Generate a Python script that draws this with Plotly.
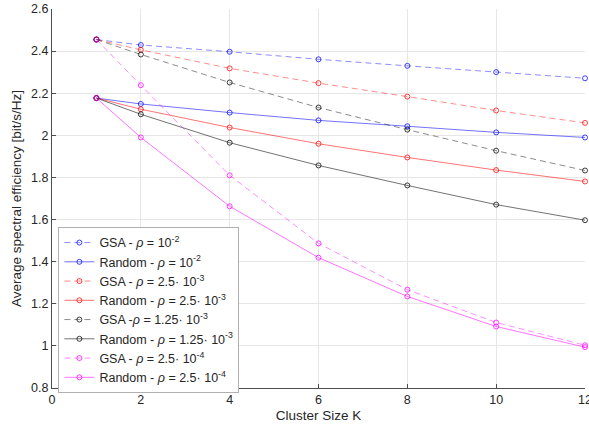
import plotly.graph_objects as go

K = [1, 2, 4, 6, 8, 10, 12]

gsa_1e2 = [2.455, 2.429, 2.397, 2.361, 2.330, 2.300, 2.271]
rnd_1e2 = [2.177, 2.149, 2.108, 2.071, 2.043, 2.014, 1.990]
gsa_25e3 = [2.455, 2.406, 2.318, 2.248, 2.184, 2.118, 2.059]
rnd_25e3 = [2.177, 2.124, 2.037, 1.960, 1.895, 1.835, 1.781]
gsa_125e3 = [2.455, 2.384, 2.251, 2.132, 2.027, 1.927, 1.833]
rnd_125e3 = [2.177, 2.100, 1.965, 1.857, 1.762, 1.671, 1.597]
gsa_25e4 = [2.455, 2.238, 1.810, 1.487, 1.267, 1.111, 1.003]
rnd_25e4 = [2.177, 1.990, 1.663, 1.419, 1.235, 1.092, 0.994]

names = [
    "GSA - <i>ρ</i> = 10<sup>-2</sup>",
    "Random - <i>ρ</i> = 10<sup>-2</sup>",
    "GSA - <i>ρ</i> = 2.5· 10<sup>-3</sup>",
    "Random - <i>ρ</i> = 2.5· 10<sup>-3</sup>",
    "GSA -<i>ρ</i> = 1.25· 10<sup>-3</sup>",
    "Random - <i>ρ</i> = 1.25· 10<sup>-3</sup>",
    "GSA - <i>ρ</i> = 2.5· 10<sup>-4</sup>",
    "Random - <i>ρ</i> = 2.5· 10<sup>-4</sup>",
]
series = [gsa_1e2, rnd_1e2, gsa_25e3, rnd_25e3, gsa_125e3, rnd_125e3, gsa_25e4, rnd_25e4]
base = [(0, 0, 255), (255, 0, 0), (0, 0, 0), (255, 0, 255)]

fig = go.Figure()
for i, (nm, ys) in enumerate(zip(names, series)):
    r, g, b = base[i // 2]
    dashed = i % 2 == 0
    fig.add_trace(go.Scatter(
        x=K, y=ys, name=nm, mode="lines+markers",
        line=dict(color=f"rgba({r},{g},{b},{0.45 if dashed else 0.55})", width=1,
                  dash="6px,4px" if dashed else "solid"),
        marker=dict(symbol="circle-open", size=5,
                    color=f"rgba({r},{g},{b},0.75)", line=dict(width=1)),
        cliponaxis=False,
    ))

fig.update_layout(
    width=589, height=432,
    margin=dict(l=52, r=4, t=9, b=44, autoexpand=False),
    plot_bgcolor="white", paper_bgcolor="white",
    font=dict(family="Liberation Sans, Arial, sans-serif", size=12, color="#262626"),
    legend=dict(x=0.012, y=0.425, xanchor="left", yanchor="top",
                bgcolor="white", bordercolor="#b0b0b0", borderwidth=1,
                font=dict(size=12.5, color="#262626"), tracegroupgap=0,
                itemwidth=30),
    xaxis=dict(range=[0, 12], tickvals=[0, 2, 4, 6, 8, 10, 12],
               showgrid=True, gridcolor="#e6e6e6", zeroline=False,
               showline=True, linecolor="#4d4d4d", linewidth=1,
               ticks="inside", ticklen=4, tickcolor="#4d4d4d",
               tickfont=dict(size=12.5), ticklabeloverflow="allow", automargin=False,
               title=dict(text="Cluster Size K", font=dict(size=13.5), standoff=4)),
    yaxis=dict(range=[0.8, 2.6], tickvals=[0.8, 1, 1.2, 1.4, 1.6, 1.8, 2, 2.2, 2.4, 2.6],
               ticktext=["0.8", "1", "1.2", "1.4", "1.6", "1.8", "2", "2.2", "2.4", "2.6"],
               showgrid=True, gridcolor="#e6e6e6", zeroline=False,
               showline=True, linecolor="#4d4d4d", linewidth=1,
               ticks="inside", ticklen=4, tickcolor="#4d4d4d",
               tickfont=dict(size=12.5), automargin=False,
               title=dict(text="Average spectral efficiency [bit/s/Hz]", font=dict(size=13.5), standoff=6)),
)

fig.write_html("out.html")
